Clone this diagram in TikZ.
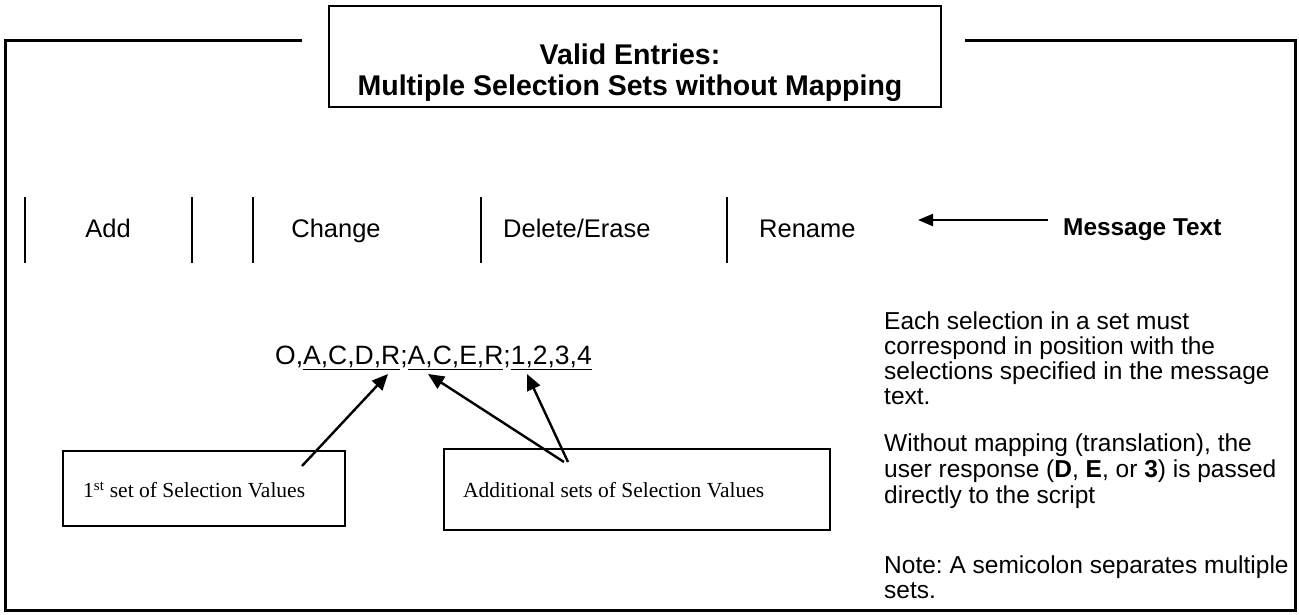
\documentclass[tikz,border=0pt]{standalone}
\usepackage{fontspec}
\setmainfont{Liberation Sans}
\newfontfamily\serifbox{Liberation Serif}
\usetikzlibrary{arrows.meta}
\frenchspacing
\begin{document}
\begin{tikzpicture}[x=1pt,y=-1pt,
  frame/.style={line width=3pt},
  thinbox/.style={draw,line width=1.5pt,inner sep=0pt},
  sep/.style={line width=1.6pt},
  menu/.style={font=\fontsize{25.5}{28}\selectfont,anchor=base,inner sep=0pt},
  ptr/.style={line width=2.4pt,-{Triangle[length=16pt,width=14pt]}},
  note/.style={font=\fontsize{24.5}{26.5}\selectfont,anchor=base west,inner sep=0pt},
  lbl/.style={font=\serifbox\fontsize{21.5}{24}\selectfont,anchor=west,inner sep=0pt}]
\useasboundingbox (0,0) rectangle (1299,614);
% outer frame
\coordinate (fl) at (302,40);
\coordinate (fr) at (965,40);
\draw[frame] (fl) -- (5,40) -- (5,610) -- (1295,610) -- (1295,40) -- (fr);
% title box
\node[thinbox,minimum width=612pt,minimum height=101pt,anchor=north west] (title) at (328,5) {};
\node[font=\bfseries\fontsize{28.5}{31}\selectfont,anchor=base,inner sep=0pt] (title1) at (630,64) {Valid Entries:};
\node[font=\bfseries\fontsize{28.5}{31}\selectfont,anchor=base,inner sep=0pt] (title2) at (630,95) {Multiple Selection Sets without Mapping};
% menu separators
\foreach \x/\n in {25/s1,192/s2,253/s3,481/s4,727/s5}{
  \coordinate (\n t) at (\x,197);
  \coordinate (\n b) at (\x,263);
  \draw[sep] (\n t) -- (\n b);
}
\node[menu] (add) at (108,237) {Add};
\node[menu] (change) at (336,237) {Change};
\node[menu,anchor=base west] (delete) at (503,237) {Delete/Erase};
\node[menu,anchor=base west] (rename) at (759,237) {Rename};
\node[font=\bfseries\fontsize{24.4}{27}\selectfont,anchor=base west,inner sep=0pt] (msg) at (1063,235) {Message Text};
\coordinate (mtail) at (1048,220);
\coordinate (mtip) at (918,220);
\draw[line width=2.2pt,-{Triangle[length=15pt,width=12pt]}] (mtail) -- (mtip);
% code line
\node[font=\fontsize{26.5}{29}\selectfont,anchor=base west,inner sep=0pt] (code) at (275,364) {O,\underline{A,C,D,R};\underline{A,C,E,R};\underline{1,2,3,4}};
% label boxes
\node[thinbox,minimum width=282pt,minimum height=75pt,anchor=north west] (box1) at (62,450) {};
\node[thinbox,minimum width=386pt,minimum height=81pt,anchor=north west] (box2) at (443,448) {};
\node[lbl] (lbl1) at (83,490) {1\textsuperscript{st} set of Selection Values};
\node[lbl] (lbl2) at (463,490) {Additional sets of Selection Values};
\coordinate (t1) at (302,466);
\coordinate (h1) at (388,374);
\coordinate (t2) at (564,462);
\coordinate (h2) at (428,374);
\coordinate (t3) at (568,462);
\coordinate (h3) at (527,374);
\draw[ptr] (t1) -- (h1);
\draw[ptr] (t2) -- (h2);
\draw[ptr] (t3) -- (h3);
% notes
\node[note] (n1a) at (884,329) {Each selection in a set must};
\node[note] (n1b) at (884,354) {correspond in position with the};
\node[note] (n1c) at (884,379) {selections specified in the message};
\node[note] (n1d) at (884,404) {text.};
\node[note] (n2a) at (884,451) {Without mapping (translation), the};
\node[note] (n2b) at (884,477) {user response (\textbf{D}, \textbf{E}, or \textbf{3}) is passed};
\node[note] (n2c) at (884,503) {directly to the script};
\node[note] (n3a) at (884,573) {Note: A semicolon separates multiple};
\node[note] (n3b) at (884,598) {sets.};
\end{tikzpicture}
\end{document}
